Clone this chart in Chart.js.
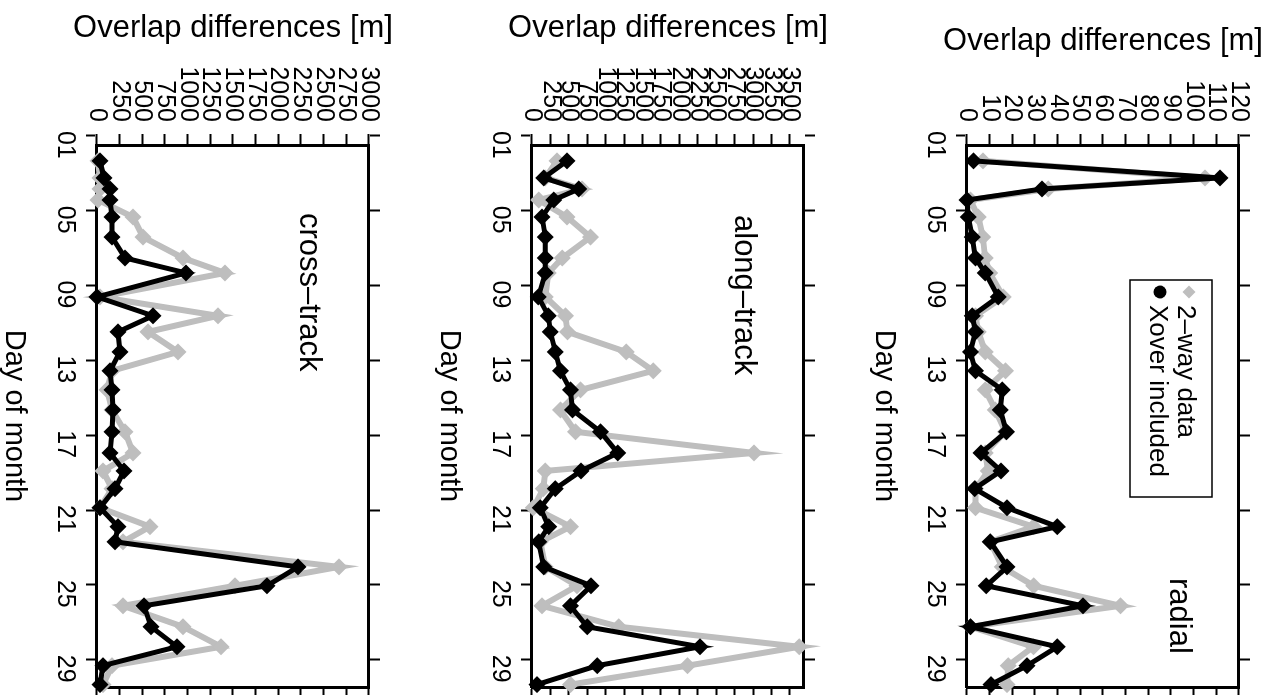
<!DOCTYPE html>
<html>
<head>
<meta charset="utf-8">
<script src="https://cdn.jsdelivr.net/npm/chart.js@4.4.0/dist/chart.umd.min.js"></script>
<style>
  html, body { margin: 0; padding: 0; background: #fff; overflow: hidden; width: 1271px; height: 695px; }
  .panel { position: absolute; top: 0; width: 700px; height: 435px; transform-origin: 0 0; transform: translate(435px, 0) rotate(90deg); }
  .panel canvas { display: block; }
</style>
</head>
<body>
<div class="panel" style="left:0px"><canvas id="c-cross" width="700" height="435"></canvas></div>
<div class="panel" style="left:435px"><canvas id="c-along" width="700" height="435"></canvas></div>
<div class="panel" style="left:870px"><canvas id="c-radial" width="700" height="435"></canvas></div>
<script>
// epochs (day of month) shared by all three panels
const days = [2.34, 3.25, 3.84, 4.43, 5.34, 6.41, 7.53, 8.33, 9.61, 10.62, 11.48, 12.55, 13.56, 14.58, 15.65,
  16.82, 17.95, 18.91, 19.86, 20.88, 21.89, 22.70, 24.04, 25.05, 26.12, 27.24, 28.31, 29.32, 30.33];

const seriesLabels = ['2–way data', 'Xover included'];

// cross-track [m]
const crossTwoWay = [11, 33, 33, 11, 397, 507, 949, 1412, 33, 1335, 563, 893, 165, 110, 165,
  309, 397, 66, 165, 33, 585, 287, 2669, 1522, 287, 949, 1368, 165, 66];
const crossXover = [33, 77, 143, 143, 165, 165, 309, 982, 0, 618, 232, 254, 143, 165, 176,
  165, 143, 298, 199, 33, 232, 199, 2217, 1875, 518, 596, 882, 66, 33];

// along-track [m]
const alongTwoWay = [340, 181, 680, 90, 476, 793, 412, 222, 181, 453, 480, 1278, 1645, 657, 385,
  589, 3013, 181, 154, 18, 521, 113, 181, 612, 136, 1178, 3626, 2108, 521];
const alongXover = [476, 158, 634, 294, 136, 181, 181, 181, 86, 222, 249, 317, 385, 521, 549,
  929, 1163, 666, 317, 113, 226, 90, 158, 802, 521, 748, 2280, 884, 68];

// radial [m]
const radialTwoWay = [7.1, 105, 35.9, 1.5, 5, 7, 8, 10, 16, 3.7, 5, 8, 17, 8, 12.5,
  17, 8, 9.4, 3.7, 3.7, 29.3, 10.3, 15.5, 29.4, 67.7, 1.5, 29.3, 18.2, 17.7];
const radialXover = [2.9, 111.6, 33.1, 0, 0.6, 2.3, 3.7, 8.1, 13.8, 2.3, 3.7, 1.5, 3.7, 15.6, 14.7,
  17.4, 6.2, 15.0, 3.4, 17.7, 39.8, 10.3, 17.7, 8.5, 51.2, 1.5, 39.8, 26.5, 10.6];

// tick labels
const dayTicks = [1, 5, 9, 13, 17, 21, 25, 29];
const crossTicks = [0, 250, 500, 750, 1000, 1250, 1500, 1750, 2000, 2250, 2500, 2750, 3000];
const alongTicks = [0, 250, 500, 750, 1000, 1250, 1500, 1750, 2000, 2250, 2500, 2750, 3000, 3250, 3500];
const radialTicks = [0, 10, 20, 30, 40, 50, 60, 70, 80, 90, 100, 110, 120];

const FONT = '"Liberation Sans", Arial, Helvetica, sans-serif';
const dayMin = 1.49, dayMax = 30.46;

// panel name and legend, drawn inside the plot box
const panelDecor = {
  id: 'panelDecor',
  afterDraw(chart, args, opts) {
    const ctx = chart.ctx;
    const a = chart.chartArea;
    ctx.save();
    ctx.fillStyle = '#000';
    ctx.textAlign = 'left';
    ctx.textBaseline = 'alphabetic';
    ctx.font = '31px ' + FONT;
    ctx.fillText(opts.name, a.left + opts.nameX, a.top + opts.nameY);

    if (opts.legend) {
      const lx = a.left + 135, ly = a.top + 27;
      ctx.lineWidth = 1.5;
      ctx.strokeStyle = '#000';
      ctx.strokeRect(lx, ly, 217, 82);
      ctx.font = '26px ' + FONT;
      const ds = chart.data.datasets;
      // gray diamond
      ctx.fillStyle = ds[0].borderColor;
      ctx.beginPath();
      const dx = lx + 12, dy = ly + 23, r = 6.5;
      ctx.moveTo(dx, dy - r); ctx.lineTo(dx + r, dy); ctx.lineTo(dx, dy + r); ctx.lineTo(dx - r, dy);
      ctx.closePath(); ctx.fill();
      // black dot
      ctx.fillStyle = ds[1].borderColor;
      ctx.beginPath();
      ctx.arc(lx + 12, ly + 52, 6.5, 0, Math.PI * 2);
      ctx.fill();
      ctx.fillStyle = '#000';
      ctx.fillText(ds[0].label, lx + 25, ly + 34);
      ctx.fillText(ds[1].label, lx + 25, ly + 62);
    }
    ctx.restore();
  }
};

function makePanel(id, twoWay, xover, valueTicks, valueMax, decor, titlePad) {
  const axisFont = { family: FONT, size: 25 };
  const grid = { drawOnChartArea: false, color: '#000', tickLength: 11, tickWidth: 2 };
  const border = { color: '#000', width: 3 };
  const setDayTicks = s => { s.ticks = dayTicks.map(v => ({ value: v })); };
  const setValTicks = s => { s.ticks = valueTicks.map(v => ({ value: v })); };

  new Chart(document.getElementById(id), {
    type: 'line',
    data: {
      datasets: [
        {
          label: seriesLabels[0],
          data: days.map((d, i) => ({ x: d, y: twoWay[i] })),
          borderColor: '#bebebe',
          backgroundColor: '#bebebe',
          borderWidth: 6,
          pointStyle: 'rectRot',
          pointRadius: 8.5,
          pointBorderWidth: 0,
          order: 1,
          clip: false
        },
        {
          label: seriesLabels[1],
          data: days.map((d, i) => ({ x: d, y: xover[i] })),
          borderColor: '#000',
          backgroundColor: '#000',
          borderWidth: 5,
          pointStyle: 'rectRot',
          pointRadius: 8.5,
          pointBorderWidth: 0,
          order: 0,
          clip: false
        }
      ]
    },
    options: {
      responsive: false,
      animation: false,
      layout: { padding: 0 },
      plugins: {
        legend: { display: false },
        tooltip: { enabled: false },
        panelDecor: decor
      },
      scales: {
        x: {
          type: 'linear', position: 'bottom', min: dayMin, max: dayMax,
          afterBuildTicks: setDayTicks,
          afterFit: s => { s.height = 97; },
          ticks: {
            autoSkip: false, maxRotation: 0, padding: 6, labelOffset: 9,
            font: axisFont, color: '#000',
            callback: v => String(v).padStart(2, '0')
          },
          grid: grid, border: border,
          title: { display: true, text: 'Day of month', color: '#000',
            font: { family: FONT, size: 29, lineHeight: 1 }, padding: { top: 0, bottom: 0 } }
        },
        x2: {
          type: 'linear', position: 'top', min: dayMin, max: dayMax,
          afterBuildTicks: setDayTicks,
          afterFit: s => { s.height = 66; },
          ticks: { display: false },
          grid: grid, border: border
        },
        y: {
          type: 'linear', position: 'left', min: 0, max: valueMax,
          afterBuildTicks: setValTicks,
          afterFit: s => { s.width = 145; },
          ticks: { autoSkip: false, padding: 12, font: axisFont, color: '#000', callback: v => String(v) },
          grid: grid, border: border,
          title: { display: true, text: 'Overlap differences [m]', color: '#000',
            font: { family: FONT, size: 31, lineHeight: 1 }, padding: { top: titlePad, bottom: 0 } }
        },
        y2: {
          type: 'linear', position: 'right', min: 0, max: valueMax,
          afterBuildTicks: setValTicks,
          afterFit: s => { s.width = 13; },
          ticks: { display: false },
          grid: grid, border: border
        }
      }
    },
    plugins: [panelDecor]
  });
}

makePanel('c-cross', crossTwoWay, crossXover, crossTicks, 3000,
  { name: 'cross–track', nameX: 68, nameY: 69, legend: false }, 13);
makePanel('c-along', alongTwoWay, alongXover, alongTicks, 3690,
  { name: 'along–track', nameX: 70, nameY: 69, legend: false }, 13);
makePanel('c-radial', radialTwoWay, radialXover, radialTicks, 120,
  { name: 'radial', nameX: 433, nameY: 69, legend: true }, 26);
</script>
</body>
</html>
